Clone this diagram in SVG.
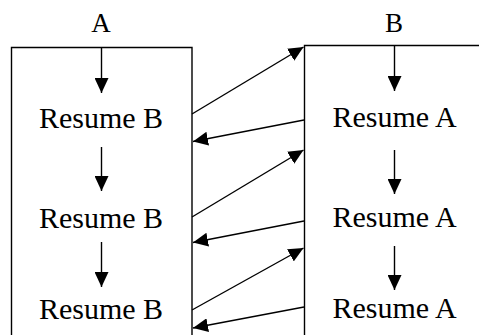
<svg xmlns="http://www.w3.org/2000/svg" width="479" height="335" viewBox="0 0 479 335">
<style>
.ln{stroke:#000;stroke-width:1.4;fill:none}
.ar{stroke:#000;stroke-width:1.4;fill:none;marker-end:url(#ah)}
.t{font-family:"Liberation Serif","Times New Roman",serif;font-size:30px;fill:#000;text-anchor:middle}
.lb{font-family:"Liberation Serif","Times New Roman",serif;font-size:27px;fill:#000;text-anchor:middle}
</style>
<defs>
<marker id="ah" markerUnits="userSpaceOnUse" markerWidth="17" markerHeight="14" refX="15" refY="7" orient="auto">
<path d="M0,0 L15,7 L0,14 z" fill="#000"/>
</marker>
</defs>
<rect width="479" height="335" fill="#fff"/>
<g id="nodeA">
<text class="lb" x="101" y="32">A</text>
<path class="ln" d="M11.5,336 V47.5 H192 V336"/>
<path class="ar" d="M101.5,47.5 V93"/>
<text class="t" x="101" y="128">Resume B</text>
<path class="ar" d="M101.5,147 V191"/>
<text class="t" x="101" y="228">Resume B</text>
<path class="ar" d="M101.5,242 V287"/>
<text class="t" x="101" y="319">Resume B</text>
</g>
<g id="nodeB">
<text class="lb" x="394" y="32">B</text>
<path class="ln" d="M304.5,336 V45.5 H480"/>
<path class="ar" d="M394.5,45.5 V91"/>
<text class="t" x="394.5" y="127">Resume A</text>
<path class="ar" d="M394.5,150 V194"/>
<text class="t" x="394.5" y="227">Resume A</text>
<path class="ar" d="M394.5,246 V290"/>
<text class="t" x="394.5" y="318">Resume A</text>
</g>
<g id="connectors">
<path class="ar" d="M192,114 L303.5,47"/>
<path class="ar" d="M304,120 L193,141.5"/>
<path class="ar" d="M192,217 L303.5,150"/>
<path class="ar" d="M304,221 L193,242.5"/>
<path class="ar" d="M192,310 L303.5,248"/>
<path class="ar" d="M304,307 L193,328"/>
</g>
</svg>
